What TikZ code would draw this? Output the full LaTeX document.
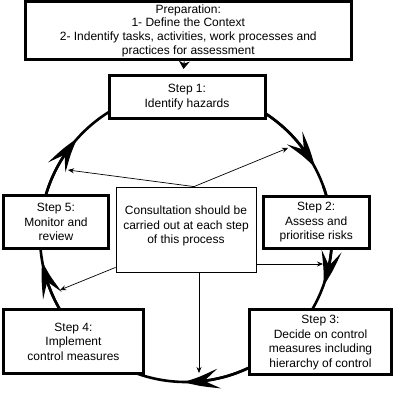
\documentclass[tikz,border=0pt]{standalone}
\usepackage{fontspec}
\setmainfont{Liberation Sans}
\usetikzlibrary{arrows.meta,bending,positioning}
\tikzset{stepbox/.style={draw, line width=3pt, fill=white, align=center, inner sep=2pt},
         notebox/.style={draw, line width=0.8pt, fill=white, align=center, inner sep=2pt},
         cyclearrow/.style={line width=2.6pt, -{Stealth[length=36pt,width=20pt,inset=15pt,bend]}},
         tellarrow/.style={line width=0.7pt, -{Stealth[length=6pt,width=5pt]}}}

\begin{document}
\begin{tikzpicture}[x=1pt,y=1pt,font=\fontsize{12}{14.5}\selectfont]
\useasboundingbox (0,0) rectangle (393,393);

% the cycle, running clockwise
\draw[line width=2.6pt] (186,157) circle (146pt);
\foreach \a in {28,-20,-91,190,138}
  {
    \draw[cyclearrow] (186,157) ++(\a+40:146pt) arc (\a+40:\a:146pt);
  }

\node[stepbox, minimum width=326.5pt, minimum height=58.5pt, font=\fontsize{12}{13.7}\selectfont] (prep) at (188.25,362.25)
  {Preparation:\\1- Define the Context\\2- Indentify tasks, activities, work processes and\\practices for assessment};
\node[stepbox, minimum width=156pt, minimum height=43pt] (step1) at (187,296) {Step 1:\\Identify hazards};
\node[stepbox, minimum width=106.5pt, minimum height=52pt] (step2) at (316.25,170.5) {Step 2:\\Assess and\\prioritise risks};
\node[stepbox, minimum width=142pt, minimum height=65pt] (step3) at (320.5,50.5) {Step 3:\\Decide on control\\measures including\\hierarchy of control};
\node[stepbox, minimum width=140pt, minimum height=63.5pt] (step4) at (73.5,51.25) {Step 4:\\Implement\\control measures};
\node[stepbox, minimum width=105pt, minimum height=53pt] (step5) at (56,171) {Step 5:\\Monitor and\\review};

\node[notebox, minimum width=140pt, minimum height=85pt, text depth=9pt] (consult) at (186,163.5)
  {Consultation should be\\carried out at each step\\of this process};

\draw[line width=1pt, -{Stealth[length=8pt,width=11pt]}, shorten >=5pt] ([xshift=-4pt]prep.south) -- ([xshift=-4pt]step1.north);

% consultation reaches every part of the cycle
\coordinate (seg51) at (68,223);
\coordinate (seg12) at (288,245);
\coordinate (seg23) at (323,129);
\coordinate (seg34) at (199,20);
\coordinate (seg45) at (60,103);

\draw[tellarrow] ([xshift=8pt]consult.north) -- (seg51);
\draw[tellarrow] ([xshift=8pt]consult.north) -- (seg12);
\draw[tellarrow] (consult.east |- seg23) -- (seg23);
\draw[tellarrow] (consult.south -| seg34) -- (seg34);
\draw[tellarrow] ([yshift=5pt]consult.south west) -- (seg45);
\end{tikzpicture}
\end{document}
